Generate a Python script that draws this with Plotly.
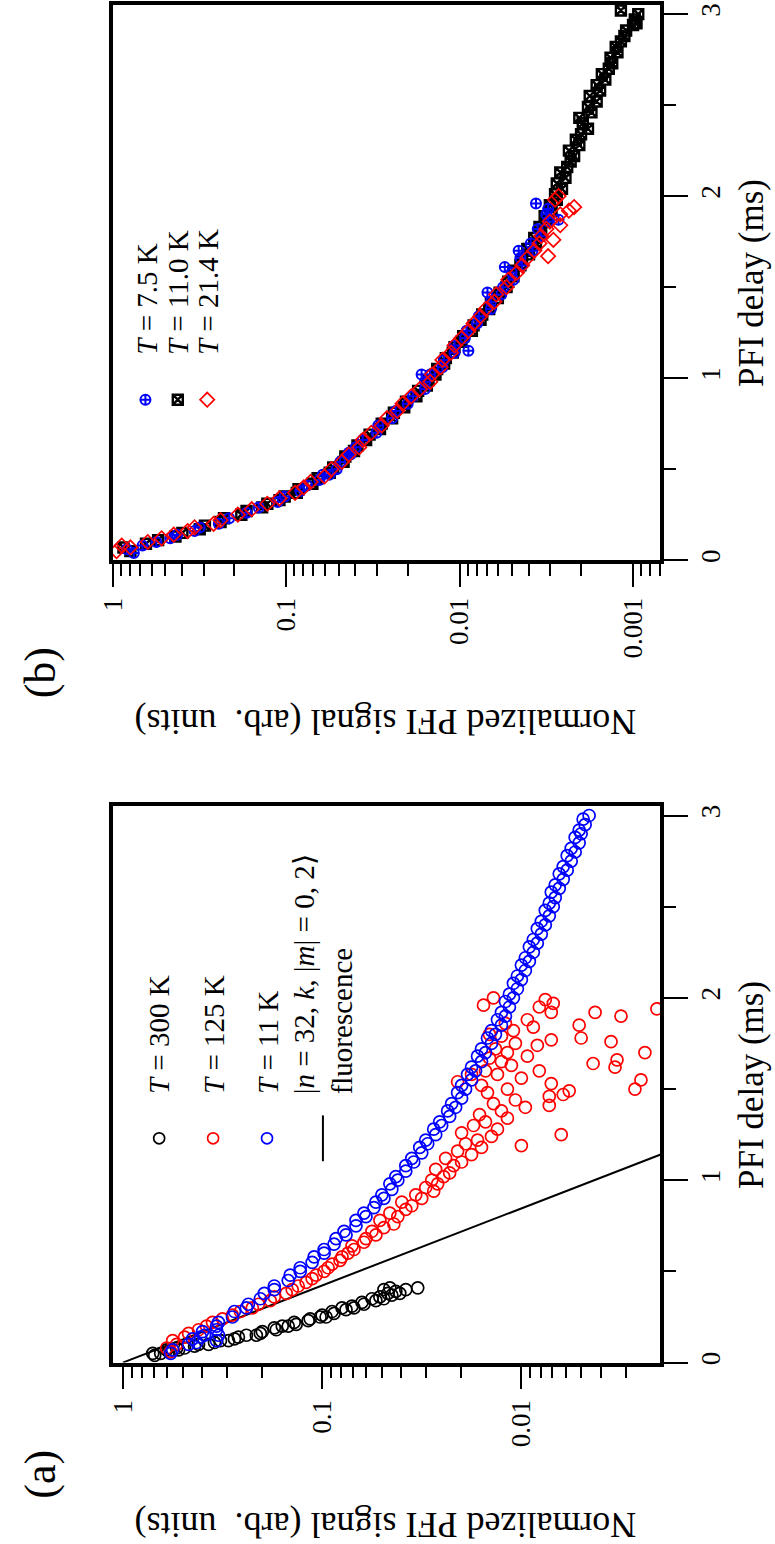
import plotly.graph_objects as go

W, H = 775, 1544
FONT = "Liberation Serif"

# ---------------- data (PFI delay in ms, log10 of normalized PFI signal) ----------------
# Panel (a)
a_300K = [(0.04,-0.16),(0.05,-0.19),(0.05,-0.15),(0.06,-0.23),(0.07,-0.22),(0.07,-0.28),(0.08,-0.31),
          (0.08,-0.27),(0.09,-0.36),(0.10,-0.38),(0.10,-0.43),(0.11,-0.46),(0.12,-0.49),(0.12,-0.53),
          (0.13,-0.56),(0.14,-0.58),(0.15,-0.62),(0.15,-0.67),(0.16,-0.69),(0.17,-0.70),(0.18,-0.77),
          (0.19,-0.76),(0.20,-0.83),(0.20,-0.80),(0.21,-0.87),(0.22,-0.86),(0.23,-0.93),(0.24,-0.94),
          (0.25,-0.99),(0.25,-1.02),(0.26,-1.00),(0.27,-1.06),(0.28,-1.05),(0.29,-1.12),(0.30,-1.10),
          (0.30,-1.16),(0.31,-1.15),(0.32,-1.21),(0.33,-1.20),(0.34,-1.27),(0.35,-1.25),(0.35,-1.31),
          (0.36,-1.29),(0.37,-1.35),(0.38,-1.33),(0.38,-1.39),(0.39,-1.37),(0.40,-1.42),(0.41,-1.48),
          (0.41,-1.34),(0.40,-1.31)]

a_125K = [(0.06,-0.24),(0.08,-0.22),(0.10,-0.27),(0.12,-0.25),(0.14,-0.31),(0.16,-0.33),(0.18,-0.38),
          (0.20,-0.42),(0.22,-0.45),(0.24,-0.50),(0.26,-0.55),(0.28,-0.59),(0.30,-0.65),(0.32,-0.68),
          (0.34,-0.74),(0.36,-0.76),(0.38,-0.82),(0.40,-0.85),(0.42,-0.88),(0.44,-0.92),(0.46,-0.95),
          (0.48,-0.97),(0.50,-1.01),(0.52,-1.03),(0.54,-1.05),(0.56,-1.09),(0.58,-1.10),(0.60,-1.13),
          (0.62,-1.16),(0.64,-1.15),(0.66,-1.21),(0.68,-1.22),(0.70,-1.27),(0.72,-1.25),(0.74,-1.31),
          (0.76,-1.36),(0.78,-1.29),(0.80,-1.38),(0.82,-1.34),(0.84,-1.42),(0.86,-1.45),(0.88,-1.40),
          (0.90,-1.50),(0.92,-1.47),(0.94,-1.56),(0.96,-1.52),(0.98,-1.58),(1.00,-1.55),(1.02,-1.61),
          (1.04,-1.64),(1.06,-1.57),(1.08,-1.66),(1.10,-1.70),(1.12,-1.62),(1.14,-1.75),(1.16,-1.68),
          (1.18,-1.80),(1.20,-1.72),(1.22,-1.78),(1.24,-1.85),(1.26,-1.70),(1.28,-1.88),(1.30,-1.76),
          (1.32,-1.82),(1.34,-1.93),(1.36,-1.79),(1.19,-2.00),(1.25,-2.20),(1.38,-1.90),(1.40,-2.02),
          (1.41,-2.14),(1.42,-1.86),(1.44,-1.97),(1.46,-2.14),(1.47,-2.21),(1.48,-1.83),(1.49,-2.24),
          (1.50,-1.93),(1.50,-2.57),(1.52,-1.80),(1.53,-2.15),(1.55,-2.60),(1.56,-2.00),(1.58,-1.88),
          (1.60,-2.09),(1.60,-1.82),(1.62,-2.47),(1.63,-1.95),(1.64,-2.36),(1.65,-1.90),(1.66,-2.48),
          (1.67,-1.84),(1.68,-2.03),(1.70,-1.93),(1.70,-2.62),(1.72,-1.87),(1.74,-2.08),(1.75,-1.97),
          (1.76,-2.45),(1.77,-2.15),(1.78,-2.30),(1.79,-1.90),(1.80,-1.84),(1.82,-1.96),(1.84,-2.06),
          (1.85,-2.29),(1.86,-1.92),(1.88,-2.03),(1.90,-2.50),(1.92,-2.15),(1.92,-2.37),(1.94,-2.68),
          (1.95,-2.09),(1.96,-1.81),(1.97,-2.16),(1.99,-2.12),(2.00,-1.86),(1.54,-1.68),(1.58,-1.75)]

a_11K = [(0.05,-0.24),(0.07,-0.25),(0.10,-0.33),(0.13,-0.35),(0.15,-0.41),(0.17,-0.40),(0.20,-0.47),
         (0.22,-0.48),(0.25,-0.55),(0.28,-0.56),(0.30,-0.62),(0.32,-0.63),(0.35,-0.69),(0.38,-0.71),
         (0.40,-0.76),(0.42,-0.76),(0.45,-0.83),(0.48,-0.84),(0.50,-0.89),(0.52,-0.89),(0.55,-0.95),
         (0.58,-0.96),(0.60,-1.01),(0.62,-1.01),(0.65,-1.06),(0.68,-1.07),(0.70,-1.12),(0.72,-1.11),
         (0.75,-1.17),(0.78,-1.17),(0.80,-1.22),(0.82,-1.21),(0.85,-1.26),(0.88,-1.27),(0.90,-1.31),
         (0.92,-1.30),(0.95,-1.35),(0.98,-1.34),(1.00,-1.38),(1.02,-1.37),(1.05,-1.42),(1.08,-1.42),
         (1.10,-1.46),(1.12,-1.45),(1.15,-1.50),(1.18,-1.49),(1.20,-1.53),(1.22,-1.52),(1.25,-1.57),
         (1.28,-1.56),(1.30,-1.60),(1.32,-1.59),(1.35,-1.64),(1.38,-1.63),(1.40,-1.67),(1.42,-1.65),
         (1.45,-1.70),(1.48,-1.68),(1.50,-1.72),(1.52,-1.70),(1.55,-1.75),(1.58,-1.73),(1.60,-1.77),
         (1.62,-1.75),(1.65,-1.80),(1.68,-1.78),(1.70,-1.82),(1.72,-1.80),(1.75,-1.85),(1.78,-1.83),
         (1.80,-1.87),(1.82,-1.85),(1.85,-1.90),(1.88,-1.88),(1.90,-1.92),(1.92,-1.90),(1.95,-1.94),
         (1.98,-1.92),(2.00,-1.96),(2.02,-1.94),(2.05,-1.98),(2.08,-1.96),(2.10,-2.00),(2.12,-1.98),
         (2.15,-2.02),(2.18,-2.00),(2.20,-2.04),(2.22,-2.02),(2.25,-2.06),(2.28,-2.04),(2.30,-2.08),
         (2.32,-2.06),(2.35,-2.10),(2.38,-2.08),(2.40,-2.12),(2.42,-2.10),(2.45,-2.14),(2.48,-2.12),
         (2.50,-2.16),(2.52,-2.14),(2.55,-2.17),(2.58,-2.15),(2.60,-2.19),(2.62,-2.17),(2.65,-2.21),
         (2.68,-2.19),(2.70,-2.23),(2.72,-2.21),(2.75,-2.25),(2.78,-2.23),(2.80,-2.27),(2.82,-2.25),
         (2.85,-2.29),(2.88,-2.27),(2.90,-2.30),(2.92,-2.29),(2.95,-2.32),(2.98,-2.31),(3.00,-2.34),
         (0.12,-0.47),(0.15,-0.48),(0.18,-0.47),(0.11,-0.37),(0.14,-0.39)]

# |n=32,k,|m|=0,2> fluorescence decay (straight line on the log axis)
fluor_t = [0.0, 1.2]
fluor_signal = [1.0, 0.00145]

# Panel (b)
b_7p5K = [(0.04,-0.12),(0.06,-0.08),(0.08,-0.17),(0.10,-0.25),(0.12,-0.33),(0.14,-0.37),(0.16,-0.47),
          (0.18,-0.50),(0.20,-0.61),(0.23,-0.67),(0.26,-0.77),(0.29,-0.84),(0.32,-0.95),(0.35,-0.99),
          (0.38,-1.08),(0.41,-1.12),(0.44,-1.19),(0.47,-1.21),(0.50,-1.29),(0.54,-1.31),(0.58,-1.37),
          (0.62,-1.40),(0.66,-1.44),(0.70,-1.52),(0.74,-1.53),(0.78,-1.61),(0.82,-1.63),(0.86,-1.70),
          (0.90,-1.73),(0.94,-1.80),(0.98,-1.80),(1.02,-1.83),(1.06,-1.90),(1.10,-1.91),(1.14,-1.97),
          (1.18,-1.97),(1.22,-2.03),(1.26,-2.04),(1.30,-2.10),(1.34,-2.11),(1.38,-2.18),(1.42,-2.18),
          (1.46,-2.24),(1.50,-2.25),(1.54,-2.31),(1.58,-2.30),(1.62,-2.36),(1.66,-2.35),(1.70,-2.42),
          (1.74,-2.41),(1.78,-2.47),(1.82,-2.45),(1.86,-2.51),(1.90,-2.50),(1.96,-2.44),(1.70,-2.34),
          (1.61,-2.26),(1.47,-2.16),(1.15,-2.05),(1.02,-1.78),(1.87,-2.57),(1.93,-2.51),(0.47,-1.25),
          (0.59,-1.36)]

b_11K = [(0.05,-0.10),(0.07,-0.06),(0.09,-0.19),(0.11,-0.26),(0.13,-0.36),(0.15,-0.40),(0.17,-0.50),
         (0.19,-0.53),(0.21,-0.62),(0.23,-0.64),(0.25,-0.74),(0.27,-0.77),(0.29,-0.86),(0.31,-0.89),
         (0.33,-0.96),(0.35,-0.99),(0.37,-1.06),(0.39,-1.07),(0.42,-1.15),(0.45,-1.18),(0.48,-1.25),
         (0.51,-1.27),(0.54,-1.33),(0.57,-1.34),(0.60,-1.39),(0.63,-1.41),(0.66,-1.46),(0.69,-1.48),
         (0.72,-1.54),(0.75,-1.55),(0.78,-1.61),(0.81,-1.62),(0.84,-1.68),(0.87,-1.69),(0.90,-1.75),
         (0.93,-1.76),(0.96,-1.81),(0.99,-1.82),(1.02,-1.86),(1.05,-1.87),(1.08,-1.91),(1.11,-1.92),
         (1.14,-1.96),(1.17,-1.97),(1.20,-2.01),(1.23,-2.02),(1.26,-2.07),(1.29,-2.08),(1.32,-2.12),
         (1.35,-2.13),(1.38,-2.17),(1.41,-2.18),(1.44,-2.22),(1.47,-2.23),(1.50,-2.27),(1.53,-2.28),
         (1.56,-2.31),(1.59,-2.31),(1.62,-2.35),(1.65,-2.36),(1.68,-2.40),(1.71,-2.39),(1.74,-2.44),
         (1.77,-2.43),(1.80,-2.47),(1.83,-2.46),(1.86,-2.50),(1.89,-2.49),(1.92,-2.53),(1.95,-2.52),
         (1.98,-2.56),(2.01,-2.55),(2.04,-2.59),(2.07,-2.56),(2.10,-2.61),(2.13,-2.58),(2.16,-2.62),
         (2.19,-2.64),(2.22,-2.66),(2.25,-2.63),(2.28,-2.69),(2.31,-2.67),(2.34,-2.70),(2.37,-2.74),
         (2.40,-2.71),(2.43,-2.69),(2.46,-2.76),(2.49,-2.74),(2.52,-2.79),(2.55,-2.75),(2.58,-2.81),
         (2.61,-2.79),(2.64,-2.84),(2.67,-2.82),(2.70,-2.86),(2.73,-2.88),(2.76,-2.87),(2.79,-2.91),
         (2.82,-2.90),(2.85,-2.93),(2.88,-2.95),(2.91,-2.96),(2.94,-3.00),(2.97,-3.01),(3.00,-3.03),
         (3.02,-2.93),(2.95,-3.02)]

b_21p4K = [(0.05,-0.02),(0.07,-0.10),(0.08,-0.05),(0.10,-0.20),(0.12,-0.28),(0.14,-0.35),(0.16,-0.43),
           (0.18,-0.47),(0.20,-0.58),(0.22,-0.62),(0.25,-0.72),(0.28,-0.80),(0.31,-0.89),(0.34,-0.96),
           (0.37,-1.05),(0.40,-1.10),(0.43,-1.14),(0.46,-1.22),(0.50,-1.26),(0.54,-1.32),(0.58,-1.36),
           (0.62,-1.42),(0.66,-1.44),(0.70,-1.49),(0.74,-1.55),(0.78,-1.58),(0.82,-1.64),(0.86,-1.67),
           (0.90,-1.72),(0.94,-1.77),(0.98,-1.83),(1.02,-1.84),(1.06,-1.89),(1.10,-1.90),(1.14,-1.95),
           (1.18,-1.97),(1.22,-2.01),(1.26,-2.05),(1.30,-2.08),(1.34,-2.12),(1.38,-2.15),(1.42,-2.20),
           (1.46,-2.21),(1.50,-2.27),(1.54,-2.28),(1.58,-2.33),(1.62,-2.36),(1.66,-2.39),(1.67,-2.51),
           (1.70,-2.43),(1.74,-2.46),(1.78,-2.47),(1.82,-2.50),(1.86,-2.52),(1.90,-2.58),(1.92,-2.63),
           (1.94,-2.66),(1.98,-2.55),(2.00,-2.57),(1.76,-2.54),(1.84,-2.58)]

# axis ticks
t_ticks = [0, 1, 2, 3]
t_minor = [0.5, 1.5, 2.5]
a_sig_ticks = [1, 0.1, 0.01]
b_sig_ticks = [1, 0.1, 0.01, 0.001]
a_sig_labels = ["1", "0.1", "0.01"]
b_sig_labels = ["1", "0.1", "0.01", "0.001"]
sig_minor = [0.9, 0.8, 0.7, 0.6, 0.5, 0.4, 0.3, 0.2,
             0.09, 0.08, 0.07, 0.06, 0.05, 0.04, 0.03, 0.02,
             0.009, 0.008, 0.007, 0.006, 0.005, 0.004, 0.003, 0.002,
             0.0009, 0.0008, 0.0007]

# ---------------- layout geometry (pixels) ----------------
BOX_L, BOX_R = 100, 658
A_TOP, A_BOT = 807, 1365
B_TOP, B_BOT = 3, 560
A_LOGRANGE = [0.049, -2.697]
B_LOGRANGE = [0.0, -3.157]
T_RANGE = [0, 3.05]


def px(x, y):
    return x / W, 1 - y / H


def split(pairs):
    t = [p[0] for p in pairs]
    s = [10 ** p[1] for p in pairs]
    return t, s


def px2data(x, y, logrange, top, bot):
    lg = logrange[0] + (x - BOX_L) / (BOX_R - BOX_L) * (logrange[1] - logrange[0])
    t = T_RANGE[0] + (bot - y) / (bot - top) * (T_RANGE[1] - T_RANGE[0])
    return 10 ** lg, t


fig = go.Figure()


def add(pairs, xa, ya, symbol, color, size, lw):
    t, s = split(pairs)
    fig.add_trace(go.Scatter(x=s, y=t, xaxis=xa, yaxis=ya, mode="markers",
                             marker=dict(symbol=symbol, size=size, color=color,
                                         line=dict(color=color, width=lw)),
                             showlegend=False, hoverinfo="skip"))


# Panel (a)
fig.add_trace(go.Scatter(x=fluor_signal, y=fluor_t, xaxis="x", yaxis="y", mode="lines",
                         line=dict(color="black", width=2), showlegend=False))
add(a_300K, "x", "y", "circle-open", "black", 12, 1.7)
add(a_125K, "x", "y", "circle-open", "#ff0000", 12, 1.7)
add(a_11K, "x", "y", "circle-open", "#0000ff", 12, 1.7)

# Panel (b)
add(b_11K, "x2", "y2", "square-x-open", "black", 10, 2.4)
add(b_7p5K, "x2", "y2", "circle-cross-open", "#0000ff", 10, 2.0)
add(b_21p4K, "x2", "y2", "diamond-open", "#ff0000", 11, 1.7)

# ---- legend keys (panel a)
for xk, col in [(147, "black"), (202, "#ff0000"), (257, "#0000ff")]:
    s, t = px2data(xk, 1140, A_LOGRANGE, A_TOP, A_BOT)
    fig.add_trace(go.Scatter(x=[s], y=[t], xaxis="x", yaxis="y", mode="markers",
                             marker=dict(symbol="circle-open", size=11, color=col,
                                         line=dict(color=col, width=1.7)),
                             showlegend=False))
s1, t1 = px2data(314, 1117, A_LOGRANGE, A_TOP, A_BOT)
s2, t2 = px2data(314, 1163, A_LOGRANGE, A_TOP, A_BOT)
fig.add_trace(go.Scatter(x=[s1, s2], y=[t1, t2], xaxis="x", yaxis="y", mode="lines",
                         line=dict(color="black", width=2), showlegend=False))

# ---- legend keys (panel b)
for xk, sym, col, sz, lw in [(133, "circle-cross-open", "#0000ff", 10, 2.0),
                             (166, "square-x-open", "black", 10, 2.4),
                             (196, "diamond-open", "#ff0000", 11, 1.7)]:
    s, t = px2data(xk, 399, B_LOGRANGE, B_TOP, B_BOT)
    fig.add_trace(go.Scatter(x=[s], y=[t], xaxis="x2", yaxis="y2", mode="markers",
                             marker=dict(symbol=sym, size=sz, color=col,
                                         line=dict(color=col, width=lw)),
                             showlegend=False))


def log_axis(rng, tv, tt, anchor, top, bot):
    return dict(type="log", range=rng, autorange=False, anchor=anchor,
                domain=[BOX_L / W, BOX_R / W],
                tickvals=tv, ticktext=tt, ticks="outside", ticklen=23, tickwidth=2,
                tickcolor="black", tickangle=-90,
                tickfont=dict(family=FONT, size=27, color="black"),
                showline=True, linewidth=3.5, linecolor="black", mirror=True,
                showgrid=False, zeroline=False,
                minor=dict(tickvals=sig_minor, ticks="outside", ticklen=12, tickwidth=2,
                           tickcolor="black", showgrid=False))


def t_axis(anchor, top, bot):
    return dict(range=T_RANGE, autorange=False, anchor=anchor, side="right",
                domain=[1 - bot / H, 1 - top / H],
                tickvals=t_ticks, ticktext=[str(v) for v in t_ticks],
                ticks="outside", ticklen=24, tickwidth=2, tickcolor="black", tickangle=-90,
                tickfont=dict(family=FONT, size=27, color="black"),
                showline=True, linewidth=3.5, linecolor="black", mirror=True,
                showgrid=False, zeroline=False,
                minor=dict(tickvals=t_minor, ticks="outside", ticklen=12, tickwidth=2,
                           tickcolor="black", showgrid=False))


fig.update_layout(
    width=W, height=H, margin=dict(l=0, r=0, t=0, b=0),
    paper_bgcolor="white", plot_bgcolor="white", showlegend=False,
    font=dict(family=FONT, color="black"),
    xaxis=log_axis(A_LOGRANGE, a_sig_ticks, a_sig_labels, "y", A_TOP, A_BOT),
    yaxis=t_axis("x", A_TOP, A_BOT),
    xaxis2=log_axis(B_LOGRANGE, b_sig_ticks, b_sig_labels, "y2", B_TOP, B_BOT),
    yaxis2=t_axis("x2", B_TOP, B_BOT),
)

ann = []


def text(x, y, s, size, angle, xanchor="center", yanchor="middle", align="center"):
    xp, yp = px(x, y)
    ann.append(dict(x=xp, y=yp, xref="paper", yref="paper", text=s, showarrow=False,
                    textangle=angle, xanchor=xanchor, yanchor=yanchor, align=align,
                    font=dict(family=FONT, size=size, color="black")))


YLAB = "Normalized PFI signal (arb.&nbsp; units)"
for top, bot, letter, ly in [(A_TOP, A_BOT, "(a)", 1477), (B_TOP, B_BOT, "(b)", 673)]:
    text(751, (top + bot) / 2, "PFI delay (ms)", 35, -90)
    text(378, bot + 163, YLAB, 36, 180)
    text(26, ly, letter, 44, -90)

# legend texts panel (a)
text(147, 1098, "<i>T</i> = 300 K", 29, -90, yanchor="bottom")
text(203, 1098, "<i>T</i> = 125 K", 29, -90, yanchor="bottom")
text(258, 1098, "<i>T</i> = 11 K", 29, -90, yanchor="bottom")
text(315, 1098, "|<i>n</i> = 32, <i>k</i>, |<i>m</i>| = 0, 2\u27e9<br>fluorescence", 29, -90,
     yanchor="bottom", align="left")
# legend texts panel (b)
text(135, 356, "<i>T</i> = 7.5 K", 29, -90, yanchor="bottom")
text(167, 356, "<i>T</i> = 11.0 K", 29, -90, yanchor="bottom")
text(197, 356, "<i>T</i> = 21.4 K", 29, -90, yanchor="bottom")

fig.update_layout(annotations=ann)
fig.write_html("out.html")
